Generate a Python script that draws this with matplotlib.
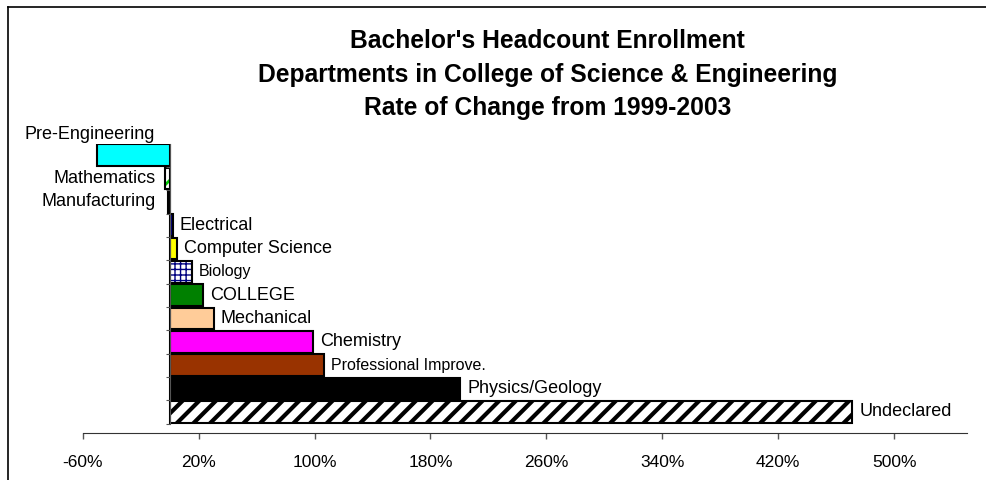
import matplotlib
matplotlib.use('Agg')
import matplotlib.pyplot as plt
from matplotlib.lines import Line2D

departments = [
    'Pre-Engineering', 'Mathematics', 'Manufacturing', 'Electrical',
    'Computer Science', 'Biology', 'COLLEGE', 'Mechanical', 'Chemistry',
    'Professional Improve.', 'Physics/Geology', 'Undeclared',
]
rate_change = [-50.4, -3.0, -1.0, 2.0, 5.0, 15.5, 22.8, 30.6, 99.0, 106.6, 200.5, 471.0]
tick_values = [-60, 20, 100, 180, 260, 340, 420, 500]
tick_labels = ['-60%', '20%', '100%', '180%', '260%', '340%', '420%', '500%']

# fill, hatch, hatch colour, hatch line width
styles = {
    'Pre-Engineering': ('#00FFFF', None, None, 0),
    'Mathematics': ('white', '//', '#00CC00', 2.0),
    'Manufacturing': ('#000000', None, None, 0),
    'Electrical': ('#000080', None, None, 0),
    'Computer Science': ('#FFFF00', None, None, 0),
    'Biology': ('white', '+++', '#000080', 1.0),
    'COLLEGE': ('#008000', None, None, 0),
    'Mechanical': ('#FFCC99', None, None, 0),
    'Chemistry': ('#FF00FF', None, None, 0),
    'Professional Improve.': ('#993300', None, None, 0),
    'Physics/Geology': ('#000000', None, None, 0),
    'Undeclared': ('white', '//', '#000000', 3.0),
}
small_labels = {'Biology', 'Professional Improve.'}


def main():
    plt.rcParams['font.family'] = ['Liberation Sans', 'DejaVu Sans']
    fig = plt.figure(figsize=(9.87, 4.8), dpi=100)
    ax = fig.add_axes([0.0838, 0.098, 0.8956, 0.603])

    ys = list(range(len(departments)))
    for y, name, val in zip(ys, departments, rate_change):
        fill, hatch, hcolor, hlw = styles[name]
        if hatch:
            with plt.rc_context({'hatch.linewidth': hlw}):
                ax.barh(y, val, height=0.93, color=fill, hatch=hatch,
                        edgecolor=hcolor, linewidth=0)
            ax.barh(y, val, height=0.93, fill=False, edgecolor='black',
                    linewidth=1.5)
        else:
            ax.barh(y, val, height=0.93, color=fill, edgecolor='black',
                    linewidth=1.5)

        size = 11.5 if name in small_labels else 13
        if val >= 0:
            ax.annotate(name, (val, y), xytext=(5, 0), textcoords='offset points',
                        ha='left', va='center', fontsize=size)
        elif name == 'Pre-Engineering':
            ax.annotate(name, (0, y - 1), xytext=(-11, -2), textcoords='offset points',
                        ha='right', va='center', fontsize=size,
                        annotation_clip=False)
        else:
            ax.annotate(name, (0, y), xytext=(-10, 0), textcoords='offset points',
                        ha='right', va='center', fontsize=size)

    ax.set_xlim(-60, 550)
    ax.set_ylim(len(departments) - 0.1, -0.5)
    ax.set_xticks(tick_values)
    ax.set_xticklabels(tick_labels, fontsize=12.5)
    ax.tick_params(axis='x', direction='out', length=4, width=1, pad=12,
                   color='#555555')

    # category axis sits at zero
    ax.spines['left'].set_position(('data', 0))
    ax.spines['left'].set_color('#555555')
    ax.set_yticks([y + 0.5 for y in ys])
    ax.set_yticklabels([])
    ax.tick_params(axis='y', direction='out', length=3, color='#555555')
    ax.spines['left'].set_bounds(-0.5, len(departments) - 0.5)
    ax.spines['top'].set_visible(False)
    ax.spines['right'].set_visible(False)
    ax.spines['bottom'].set_color('#333333')

    fig.text(0.555, 0.914, "Bachelor's Headcount Enrollment", ha='center',
             va='center', fontsize=17.7, fontweight='bold')
    fig.text(0.555, 0.844, 'Departments in College of Science & Engineering',
             ha='center', va='center', fontsize=17.7, fontweight='bold')
    fig.text(0.555, 0.774, 'Rate of Change from 1999-2003', ha='center',
             va='center', fontsize=17.7, fontweight='bold')

    # frame edges of the chart area
    fig.add_artist(Line2D([0.008, 1.0], [0.986, 0.986], color='black', lw=1.2))
    fig.add_artist(Line2D([0.008, 0.008], [0.0, 0.986], color='black', lw=1.2))

    fig.savefig('out.png', dpi=100)


if __name__ == '__main__':
    main()
